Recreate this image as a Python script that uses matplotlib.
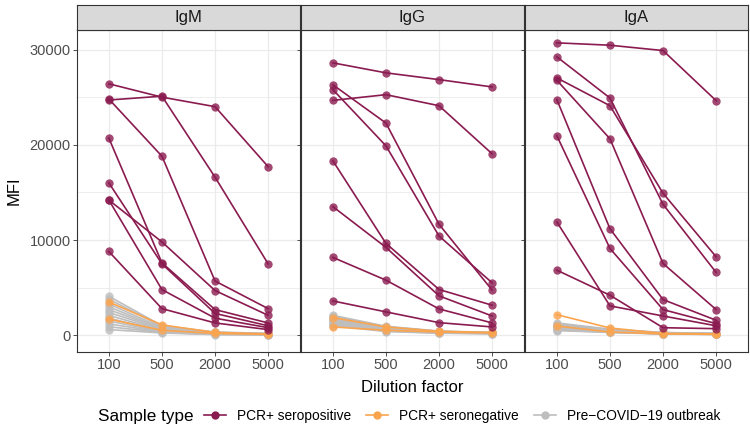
import matplotlib
matplotlib.use("Agg")
import matplotlib.pyplot as plt
from matplotlib.lines import Line2D

plt.rcParams['font.family'] = ['Liberation Sans', 'DejaVu Sans']

dilutions = ["100", "500", "2000", "5000"]
isotypes = ["IgM", "IgG", "IgA"]
y_ticks = [0, 10000, 20000, 30000]

# PCR+ seropositive
igm_pos = [
    [26400, 25000, 24000, 17700],
    [24700, 25100, 16600, 7500],
    [24800, 18800, 5700, 2800],
    [20700, 7600, 2700, 1300],
    [16000, 7500, 2300, 1000],
    [14200, 9800, 4700, 2100],
    [14200, 4800, 1800, 800],
    [8800, 2800, 1300, 600],
]
igg_pos = [
    [28600, 27550, 26840, 26070],
    [24660, 25260, 24100, 19050],
    [26300, 22280, 11650, 4740],
    [25790, 19890, 10420, 5510],
    [18320, 9650, 4810, 3160],
    [13510, 9230, 4140, 2030],
    [8180, 5790, 2770, 1300],
    [3610, 2460, 1330, 880],
]
iga_pos = [
    [30700, 30450, 29890, 24630],
    [29230, 24910, 13750, 6600],
    [27020, 24100, 14910, 8240],
    [26770, 20630, 7540, 2700],
    [24740, 11190, 3750, 1580],
    [20950, 9120, 2700, 1230],
    [11900, 3090, 2030, 1000],
    [6840, 4210, 800, 700],
]

# PCR+ seronegative
igm_neg = [[3500, 1100, 300, 150], [1700, 530, 200, 100]]
igg_neg = [[1860, 880, 420, 300], [880, 530, 350, 250]]
iga_neg = [[2170, 770, 200, 150], [980, 350, 150, 100]]

# Pre-COVID-19 outbreak
igm_pre = [
    [4100, 1000, 350, 200], [3800, 900, 300, 180], [3300, 800, 300, 150],
    [3000, 700, 250, 150], [2700, 650, 250, 120], [2400, 600, 200, 100],
    [2100, 500, 200, 100], [1800, 450, 150, 90], [1500, 400, 150, 80],
    [1200, 350, 100, 70], [900, 300, 100, 60], [600, 250, 80, 50],
]
igg_pre = [
    [2100, 950, 450, 300], [2000, 900, 420, 280], [1900, 850, 400, 260],
    [1800, 800, 380, 250], [1700, 750, 360, 240], [1600, 700, 340, 230],
    [1500, 650, 320, 220], [1400, 600, 300, 210], [1300, 550, 280, 200],
    [1200, 500, 260, 190], [1100, 450, 240, 180], [1000, 400, 220, 170],
]
iga_pre = [
    [1300, 650, 300, 200], [1200, 600, 280, 190], [1100, 560, 260, 180],
    [1000, 520, 240, 170], [950, 480, 220, 160], [900, 450, 200, 150],
    [850, 420, 190, 140], [800, 400, 180, 130], [700, 380, 170, 120],
    [600, 350, 160, 110], [550, 320, 150, 100], [500, 300, 140, 90],
]

pos_data = [igm_pos, igg_pos, iga_pos]
neg_data = [igm_neg, igg_neg, iga_neg]
pre_data = [igm_pre, igg_pre, iga_pre]

C_POS = '#8A1B50'
C_NEG = '#FBA44E'
C_PRE = '#BEBEBE'
GRID = '#EBEBEB'

W, H = 750, 429
fig = plt.figure(figsize=(W / 100, H / 100), dpi=100)

left = 77
pw = 223
strip_h = 25
panel_top = 29.5
panel_bot = 352

xs = list(range(len(dilutions)))

for i, iso in enumerate(isotypes):
    x0 = left + i * (pw + 1)
    ax = fig.add_axes([x0 / W, 1 - panel_bot / H, pw / W, (panel_bot - panel_top) / H])
    ax.set_xlim(-0.6, 3.6)
    ax.set_ylim(-1750, 32100)
    for v in range(-5000, 35001, 5000):
        ax.axhline(v, color=GRID, lw=0.9 if v % 10000 == 0 else 0.6, zorder=0)
    for xv in xs:
        ax.axvline(xv, color=GRID, lw=0.9, zorder=0)
    for series, col, z in [(pre_data[i], C_PRE, 2), (neg_data[i], C_NEG, 3), (pos_data[i], C_POS, 4)]:
        for s in series:
            ax.plot(xs, s, color=col, lw=1.2, zorder=z)
            ax.plot(xs, s, 'o', color=col, ms=6, alpha=0.8, mec='none', zorder=z)
    ax.set_xticks(xs)
    ax.set_xticklabels(dilutions)
    ax.set_yticks(y_ticks)
    if i == 0:
        ax.set_yticklabels([str(v) for v in y_ticks])
    else:
        ax.set_yticklabels([])
        ax.tick_params(axis='y', length=0)
    ax.tick_params(axis='both', labelsize=10.5, colors='#333333', labelcolor='#4D4D4D',
                   length=2.7, width=0.6, pad=1.8)
    for sp in ax.spines.values():
        sp.set_color('#333333')
        sp.set_linewidth(0.8)

    # strip
    sax = fig.add_axes([x0 / W, 1 - panel_top / H, pw / W, strip_h / H])
    sax.set_facecolor('#D9D9D9')
    sax.set_xticks([])
    sax.set_yticks([])
    for sp in sax.spines.values():
        sp.set_color('#333333')
        sp.set_linewidth(0.8)
    sax.text(0.5, 0.47, iso, ha='center', va='center', fontsize=12, color='#1A1A1A',
             transform=sax.transAxes)

fig.text(14 / W, 1 - 191 / H, "MFI", rotation=90, ha='center', va='center', fontsize=12)
fig.text(412 / W, 1 - 388 / H, "Dilution factor", ha='center', va='center', fontsize=12)

# legend
fig.text(98 / W, 1 - 416 / H, "Sample type", ha='left', va='center', fontsize=12.3)
handles = [
    Line2D([0], [0], color=C_POS, lw=1.2, marker='o', ms=6, mec='none'),
    Line2D([0], [0], color=C_NEG, lw=1.2, marker='o', ms=6, mec='none'),
    Line2D([0], [0], color=C_PRE, lw=1.2, marker='o', ms=6, mec='none'),
]
labels = ["PCR+ seropositive", "PCR+ seronegative", "Pre\u2212COVID\u221219 outbreak"]
fig.legend(handles, labels, loc='center left', bbox_to_anchor=(204 / W, 1 - 416 / H),
           ncol=3, frameon=False, fontsize=9.9, handlelength=1.6, handletextpad=0.8,
           columnspacing=1.1, borderaxespad=0, borderpad=0)

fig.savefig("out.png", dpi=100)
